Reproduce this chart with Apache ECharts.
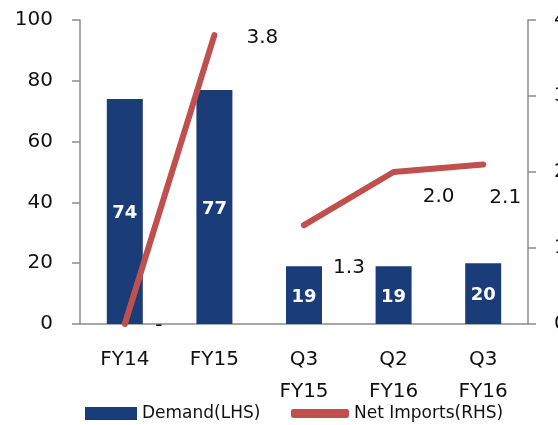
<!DOCTYPE html>
<html>
<head>
<meta charset="utf-8">
<script src="https://cdn.jsdelivr.net/npm/echarts@6/dist/echarts.min.js"></script>
<style>
  html, body { margin: 0; padding: 0; background: #fff; }
  #chart { width: 558px; height: 425px; }
</style>
</head>
<body>
<div id="chart"></div>
<script>
// 数据
const categories = ['FY14', 'FY15', 'Q3\nFY15', 'Q2\nFY16', 'Q3\nFY16']
const demand = [74, 77, 19, 19, 20]
const netImports = [0, 3.8, 1.3, 2.0, 2.1]
const leftTicks = [0, 20, 40, 60, 80, 100]
const rightTicks = [0, 1, 2, 3, 4]
// 折线在 FY15 之后断开（年度 / 季度两段）
const breakAfter = 1

const font = 'DejaVu Sans'
const blue = '#1a3c78'
const red = '#c0504d'
const axisGray = '#8c8c8c'

// 标签偏移（Excel 里手动摆放的位置）
const labelOffsets = [[34, 2], [48, 3], [45, 43], [45, 25], [22, 33]]

const part1 = netImports.map((v, i) => (i <= breakAfter ? v : null))
const part2 = netImports.map((v, i) => (i > breakAfter ? v : null))

function lineSeries(data) {
  return {
    name: 'Net Imports(RHS)',
    type: 'line',
    yAxisIndex: 1,
    connectNulls: false,
    symbol: 'circle',
    symbolSize: 1,
    itemStyle: { color: red },
    lineStyle: { color: red, width: 6, cap: 'round' },
    data: data.map((v, i) => ({ value: v, label: { offset: labelOffsets[i] } })),
    label: {
      show: true,
      position: 'inside',
      color: '#111',
      fontSize: 20,
      fontFamily: font,
      formatter: p => (p.value === 0 ? '-' : p.value == null ? '' : p.value.toFixed(1))
    }
  }
}

const chart = echarts.init(document.getElementById('chart'))

chart.setOption({
  animation: false,
  textStyle: { fontFamily: font },
  grid: { left: 80, right: 30, top: 20, bottom: 101, outerBoundsMode: 'none' },
  legend: [
    {
      left: 85, top: 405, padding: 0,
      itemWidth: 52, itemHeight: 13,
      textStyle: { fontFamily: font, fontSize: 17, color: '#111' },
      data: [{ name: 'Demand(LHS)', icon: 'rect' }]
    },
    {
      left: 291, top: 405, padding: 0,
      itemWidth: 58, itemHeight: 9,
      textStyle: { fontFamily: font, fontSize: 17, color: '#111' },
      data: [{ name: 'Net Imports(RHS)', icon: 'roundRect' }]
    }
  ],
  xAxis: {
    type: 'category',
    data: categories,
    axisLine: { lineStyle: { color: axisGray, width: 1.5 } },
    axisTick: { length: 8, lineStyle: { color: axisGray, width: 1.5 } },
    axisLabel: {
      color: '#111', fontSize: 20, fontFamily: font,
      margin: 20, lineHeight: 32, verticalAlign: 'top', interval: 0
    }
  },
  yAxis: [
    {
      type: 'value', min: 0, max: 100, interval: 20,
      axisLine: { show: true, lineStyle: { color: axisGray, width: 1.5 } },
      axisTick: { show: true, length: 8, lineStyle: { color: axisGray, width: 1.5 } },
      splitLine: { show: false },
      axisLabel: { color: '#111', fontSize: 20, fontFamily: font, margin: 27 }
    },
    {
      type: 'value', min: 0, max: 4, interval: 1,
      axisLine: { show: true, lineStyle: { color: axisGray, width: 1.5 } },
      axisTick: { show: true, length: 8, lineStyle: { color: axisGray, width: 1.5 } },
      splitLine: { show: false },
      axisLabel: { color: '#111', fontSize: 20, fontFamily: font, margin: 26 }
    }
  ],
  series: [
    {
      name: 'Demand(LHS)',
      type: 'bar',
      yAxisIndex: 0,
      barWidth: 36,
      itemStyle: { color: blue },
      label: {
        show: true,
        position: 'inside',
        offset: [0, 2],
        color: '#fff',
        fontWeight: 'bold',
        fontSize: 18,
        fontFamily: font
      },
      data: demand
    },
    lineSeries(part1),
    lineSeries(part2)
  ]
})
</script>
</body>
</html>
